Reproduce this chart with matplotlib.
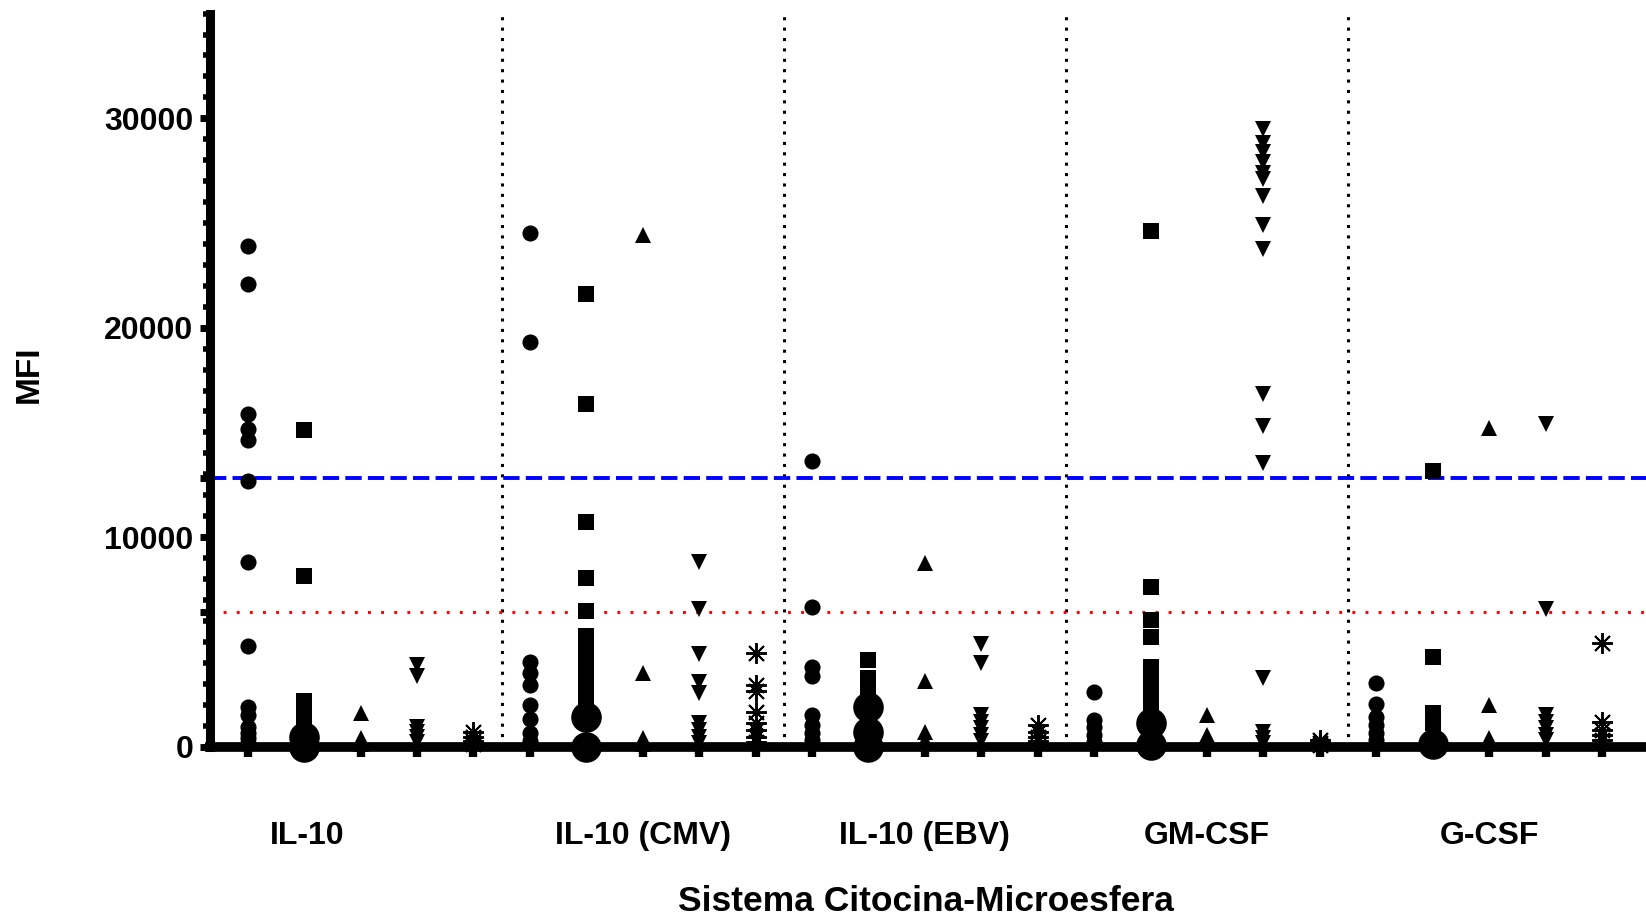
import numpy as np
import matplotlib
matplotlib.use("Agg")
import matplotlib.pyplot as plt
from matplotlib.ticker import MultipleLocator

plt.rcParams['font.family'] = ['Liberation Sans', 'DejaVu Sans']
plt.rcParams['font.weight'] = 'bold'

# ---- data -------------------------------------------------------------
groups = ["IL-10", "IL-10 (CMV)", "IL-10 (EBV)", "GM-CSF", "G-CSF"]

# IL-10
il10_circle = [23900, 22100, 15870, 15160, 14630, 12670, 8810, 4810, 1900, 1510, 930, 630, 400, 170]
il10_square = [15100, 8150, 2150, 1700, 1300]
il10_up = [1600, 400, 100]
il10_down = [3900, 3350, 950, 700, 450, 200]
il10_star = [700, 450, 250, 100]
il10_pool = [0, 450]

# IL-10 (CMV)
cmv_circle = [24500, 19300, 4050, 3500, 2950, 2000, 1300, 650, 250]
cmv_square = [21600, 16350, 10700, 8050, 6450, 5300, 4900, 4500, 4100, 3700,
              3300, 2900, 2500, 2100, 1700]
cmv_up = [24450, 3500, 400, 100]
cmv_down = [8800, 6550, 4400, 3100, 2550, 1100, 800, 450, 150]
cmv_star = [4450, 2950, 2650, 1650, 1100, 800, 450, 200]
cmv_pool = [0, 1420]

# IL-10 (EBV)
ebv_circle = [13650, 6680, 3810, 3370, 1500, 1030, 630, 310]
ebv_square = [4130, 3290, 2500]
ebv_up = [8750, 3130, 710, 310]
ebv_down = [4880, 4000, 1500, 1180, 870, 550, 240]
ebv_star = [1030, 710, 470, 240]
ebv_pool = [0, 700, 1900]

# GM-CSF
gm_circle = [2620, 1270, 950, 550, 230]
gm_square = [24600, 7600, 6040, 5210, 3800, 3400, 3000, 2600, 2200, 1900, 1600]
gm_up = [1500, 550, 150]
gm_down = [29500, 28800, 28400, 27900, 27400, 27100, 26300, 24900, 23750,
           16850, 15300, 13550, 3250, 700, 400, 150]
gm_star = [300, 150, 50]
gm_pool = [50, 1100]

# G-CSF
g_circle = [3020, 2030, 1430, 1030, 630, 320]
g_square = [13150, 4290, 1590, 1100]
g_up = [15200, 1980, 400]
g_down = [15400, 6550, 1510, 1190, 870, 560, 320]
g_star = [4960, 1190, 790, 560, 320]
g_pool = [100]

series = [
    [il10_circle, il10_square, il10_up, il10_down, il10_star],
    [cmv_circle, cmv_square, cmv_up, cmv_down, cmv_star],
    [ebv_circle, ebv_square, ebv_up, ebv_down, ebv_star],
    [gm_circle, gm_square, gm_up, gm_down, gm_star],
    [g_circle, g_square, g_up, g_down, g_star],
]
pools = [il10_pool, cmv_pool, ebv_pool, gm_pool, g_pool]

cutoff_low = 6400
cutoff_high = 12800

# ---- figure -----------------------------------------------------------
W, H = 1646, 916
fig = plt.figure(figsize=(W / 100, H / 100), dpi=100)
ax = fig.add_axes([209.5 / W, 169.5 / H, 1 - 209.5 / W, (902.4 - 169.5) / H])

markers = ['o', 's', '^', 'v', (8, 2, 0)]
n_per = 5

for g, group_series in enumerate(series):
    for k, vals in enumerate(group_series):
        x = g * n_per + k + 1
        m = markers[k]
        if k == 4:
            ax.plot(np.full(len(vals), x), vals, linestyle='none', marker=m,
                    ms=15, mew=1.4, color='black', clip_on=False, zorder=4)
        else:
            ax.plot(np.full(len(vals), x), vals, linestyle='none', marker=m,
                    ms=11.6, mew=0, color='black', clip_on=False, zorder=4)
    # pooled low-signal readings drawn as large dots on the bead column
    pv = pools[g]
    ax.plot(np.full(len(pv), g * n_per + 2), pv, linestyle='none', marker='o',
            ms=22, mew=0, color='black', clip_on=False, zorder=4)

# group separators
for g in range(1, len(groups)):
    ax.axvline(g * n_per + 0.5, color='black', lw=2.2,
               linestyle=(0, (1, 2.4)), zorder=1)

# positivity thresholds
ax.axhline(cutoff_high, color='#0000ff', lw=2.8, linestyle=(0, (4.2, 1.6)), zorder=2)
ax.axhline(cutoff_low, color='#ff0000', lw=2.1, linestyle=(0, (1, 3.5)), zorder=2)

ax.set_xlim(0.323, 25.78)
ax.set_ylim(0, 35000)

for s in ['top', 'right']:
    ax.spines[s].set_visible(False)
ax.spines['left'].set_linewidth(6.5)
ax.spines['bottom'].set_linewidth(7)

# y ticks
yt = [0, cutoff_low, 10000, cutoff_high, 20000, 30000]
ax.set_yticks(yt)
ax.set_yticklabels([str(v) if v % 10000 == 0 else '' for v in yt])
ax.yaxis.set_minor_locator(MultipleLocator(1000))
ax.tick_params(axis='y', which='major', length=7.5, width=5, pad=4,
               labelsize=23, direction='out')
ax.tick_params(axis='y', which='minor', length=4.7, width=4, direction='out')

# x ticks: one per column, group names underneath
ax.set_xticks(np.arange(1, len(groups) * n_per + 1))
ax.set_xticklabels([])
ax.tick_params(axis='x', which='major', length=7.5, width=6, direction='out')
label_pos = [2.05, 8, 13, 18, 23]
for xp, name in zip(label_pos, groups):
    ax.annotate(name, xy=(xp, 0), xycoords=('data', 'axes fraction'),
                xytext=(0, -70.2), textcoords='offset points',
                ha='center', va='baseline', fontsize=23, fontweight='bold')

for lab in ax.get_yticklabels():
    lab.set_fontweight('bold')

fig.text(29.4 / W, 1 - 374.7 / H, 'MFI', rotation=90, ha='center', va='center',
         fontsize=24, fontweight='bold')
fig.text(926 / W, 1 - 901.5 / H, 'Sistema Citocina-Microesfera', ha='center',
         va='center', fontsize=25.5, fontweight='bold')

fig.savefig('out.png', dpi=100)
